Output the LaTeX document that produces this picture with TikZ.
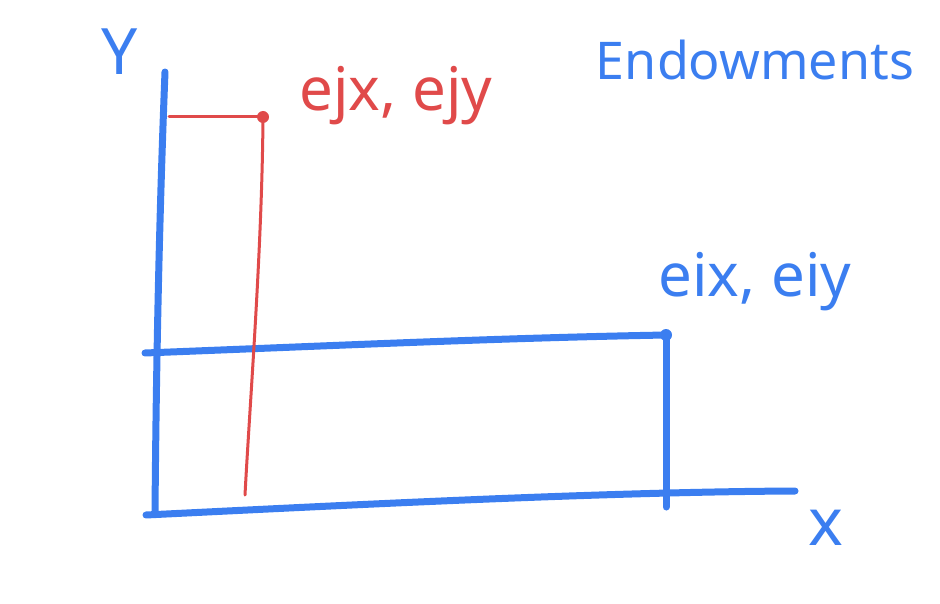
\documentclass[tikz,border=0pt]{standalone}
\usepackage{fontspec}
\setmainfont{Noto Sans}
\definecolor{penblue}{HTML}{3B7EF0}
\definecolor{penred}{HTML}{E04A4A}
\tikzset{
  blueline/.style={draw=penblue, line width=7pt, line cap=round, line join=round},
  redline/.style={draw=penred, line width=3pt, line cap=round},
  bluetext/.style={text=penblue, inner sep=0pt},
  redtext/.style={text=penred, inner sep=0pt},
}
\begin{document}
\begin{tikzpicture}[x=1pt,y=-1pt]
\useasboundingbox (0,0) rectangle (940,604);
% axes
\coordinate (ytop) at (165,72);
\coordinate (origin) at (146,515);
\coordinate (ybot) at (155,512);
\coordinate (xend) at (795,491);
\draw[blueline] (ytop) .. controls (158,250) and (156,400) .. (ybot);
\draw[blueline] (origin) .. controls (350,505) and (600,492) .. (xend);
% endowment box of i
\coordinate (hl) at (145,353);
\coordinate (ei) at (666,335);
\coordinate (vb) at (666,507);
\draw[blueline] (hl) .. controls (350,345) and (500,338) .. (ei);
\draw[blueline] (ei) -- (vb);
\fill[penblue] (ei) circle (6pt);
% endowment of j
\coordinate (ej) at (263,117);
\coordinate (jl) at (169,117);
\coordinate (jb) at (245,495);
\draw[redline] (jl) -- (ej);
\draw[redline] (ej) .. controls (262,250) and (250,400) .. (jb);
\fill[penred] (ej) circle (6pt);
% labels
\node[bluetext, font=\fontsize{64}{64}\selectfont] (ylab) at (120,52) {Y};
\node[bluetext, font=\fontsize{66}{66}\selectfont] (xlab) at (826,528) {x};
\node[bluetext, font=\fontsize{52}{52}\selectfont] (title) at (755,60) {Endowments};
\node[bluetext, font=\fontsize{60}{60}\selectfont] (eilab) at (755,282) {eix, eiy};
\node[redtext, font=\fontsize{60}{60}\selectfont] (ejlab) at (396,96) {ejx, ejy};
\end{tikzpicture}
\end{document}
